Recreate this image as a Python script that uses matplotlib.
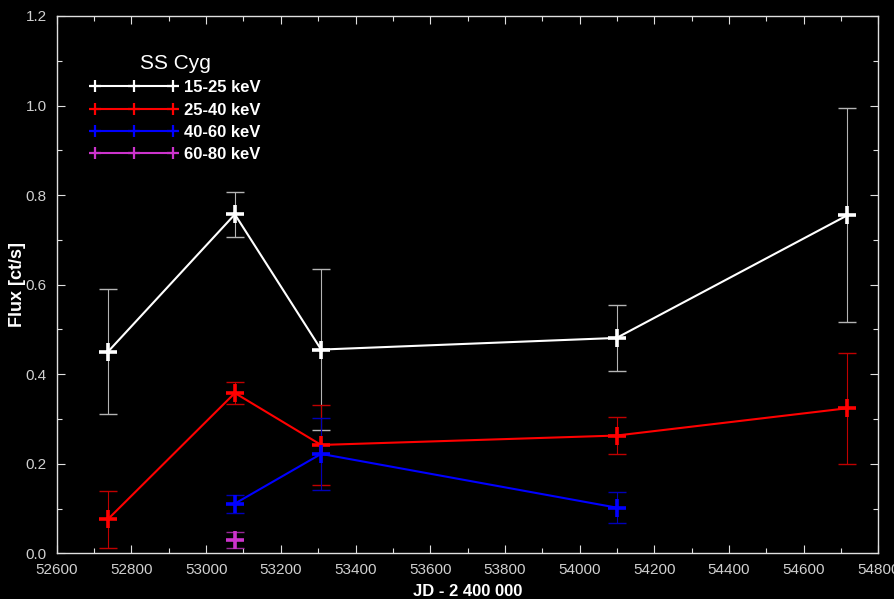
import matplotlib
matplotlib.use("Agg")
import matplotlib.pyplot as plt
from matplotlib.lines import Line2D
from matplotlib.ticker import MultipleLocator

plt.rcParams['font.family'] = ['Liberation Sans', 'DejaVu Sans']

# ----- data ---------------------------------------------------------

jd_15_25 = [52737, 53077, 53308, 54099, 54717]
flux_15_25 = [0.450, 0.757, 0.455, 0.481, 0.755]
err_15_25 = [0.140, 0.050, 0.180, 0.074, 0.239]

jd_25_40 = [52737, 53077, 53308, 54099, 54717]
flux_25_40 = [0.076, 0.358, 0.242, 0.263, 0.324]
err_25_40 = [0.064, 0.024, 0.090, 0.041, 0.124]

jd_40_60 = [53077, 53308, 54099]
flux_40_60 = [0.111, 0.222, 0.102]
err_40_60 = [0.020, 0.080, 0.035]

jd_60_80 = [53077]
flux_60_80 = [0.030]
err_60_80 = [0.018]

labels = ["15-25 keV", "25-40 keV", "40-60 keV", "60-80 keV"]

# ----- style --------------------------------------------------------

series = [
    (jd_15_25, flux_15_25, err_15_25, "#ffffff", "#b4b4b4"),
    (jd_25_40, flux_25_40, err_25_40, "#ff0000", "#c00000"),
    (jd_40_60, flux_40_60, err_40_60, "#0000ff", "#0000b8"),
    (jd_60_80, flux_60_80, err_60_80, "#cc33cc", "#982898"),
]

fig = plt.figure(figsize=(8.94, 5.99), dpi=100, facecolor="black")
ax = fig.add_axes([56.7/894, 1 - 553.3/599, 821.7/894, (553.3 - 16)/599])
ax.set_facecolor("black")

# error bars first, lines on top
for x, y, e, col, ecol in series:
    ax.errorbar(x, y, yerr=e, fmt="none", ecolor=ecol, elinewidth=0.8,
                capsize=6.2, capthick=1.0, zorder=2)

for x, y, e, col, ecol in series:
    ax.plot(x, y, color=col, lw=1.5, marker="+", ms=13, mew=2.6, zorder=3)

# ----- axes ---------------------------------------------------------

ax.set_xlim(52600, 54800)
ax.set_ylim(0, 1.2)
ax.xaxis.set_major_locator(MultipleLocator(200))
ax.xaxis.set_minor_locator(MultipleLocator(100))
ax.yaxis.set_major_locator(MultipleLocator(0.2))
ax.yaxis.set_minor_locator(MultipleLocator(0.1))
ax.yaxis.set_major_formatter(matplotlib.ticker.FormatStrFormatter("%.1f"))

for sp in ax.spines.values():
    sp.set_color("#e0e0e0")
    sp.set_linewidth(1.0)

ax.tick_params(which="both", direction="in", top=True, right=True,
               color="#e0e0e0", width=0.8, labelcolor="#d0d0d0",
               labelsize=11)
ax.tick_params(which="major", length=6)
ax.tick_params(which="minor", length=3.5)
ax.tick_params(axis="x", pad=7)
ax.tick_params(axis="y", pad=7)

ax.set_xlabel("JD - 2 400 000", color="white", fontsize=12,
              fontweight="bold", labelpad=5)
ax.set_ylabel("Flux [ct/s]", color="white", fontsize=13,
              fontweight="bold", labelpad=0)

# ----- legend -------------------------------------------------------

handles = [Line2D([], [], color=col, lw=1.5, marker="+", ms=9, mew=1.6)
           for _, _, _, col, _ in series]
leg = ax.legend(handles, labels, title="SS Cyg", loc="upper left",
                bbox_to_anchor=(90/894, 1 - 54/599),
                bbox_transform=fig.transFigure,
                frameon=False, numpoints=3, handlelength=5.3,
                handletextpad=0.35, labelspacing=0.44, borderpad=0,
                borderaxespad=0, prop={"size": 12, "weight": "bold"},
                title_fontsize=15)
leg.get_title().set_color("white")
for t in leg.get_texts():
    t.set_color("white")

fig.savefig("out.png", dpi=100, facecolor="black")
